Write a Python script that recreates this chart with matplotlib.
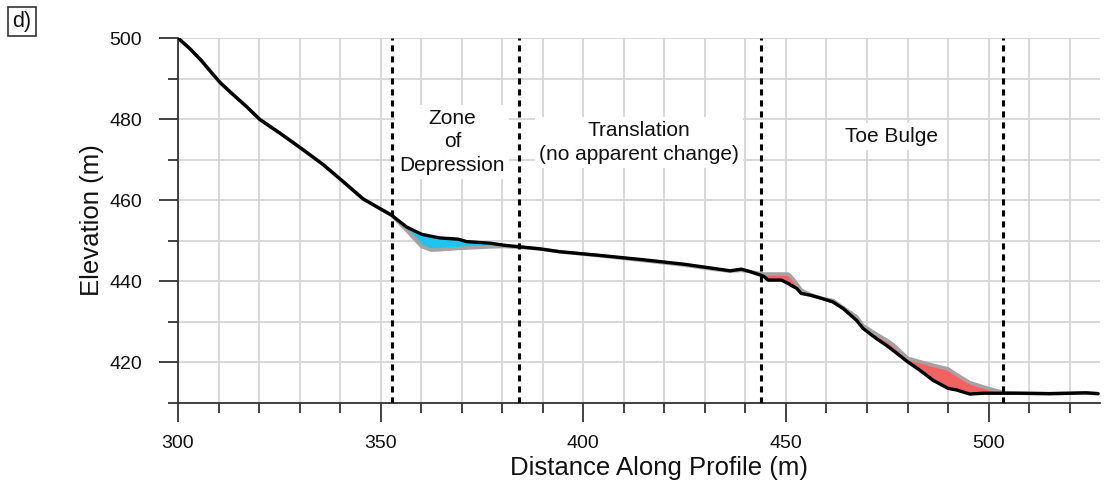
import matplotlib
matplotlib.use("Agg")
import matplotlib.pyplot as plt
import numpy as np
from matplotlib.ticker import MultipleLocator

plt.rcParams['font.family'] = ['Liberation Sans', 'DejaVu Sans']

# Distance along profile (m)
distance = [300, 303, 305.8, 307.9, 310.4, 313.2, 316.9, 320.2, 325.2, 330.1,
            335.8, 340.5, 345.7, 352.7, 356.4, 360.1, 362.5, 364.6, 369.1, 371.2,
            377, 380.5, 384.4, 389.3, 394.2, 404, 415, 425, 432, 436.2,
            439.0, 441.1, 444.4, 445.6, 448.9, 450.5, 451.3, 452.6, 453.8, 455.9,
            458.8, 461.6, 464.1, 467.4, 469.0, 472.3, 474.8, 476.4, 480.1, 483,
            486.3, 490, 492.1, 495.4, 498.6, 500.3, 503.5, 507.7, 515, 520,
            524, 527]

# Current surface (black)
elev_new = [500, 497.3, 494.4, 491.9, 489.0, 486.4, 483.1, 479.9, 476.5, 473.0,
            468.8, 464.8, 460.3, 456.3, 453.4, 451.6, 451.1, 450.7, 450.4, 449.8,
            449.4, 448.9, 448.5, 448.0, 447.3, 446.4, 445.3, 444.2, 443.2, 442.6,
            443.0, 442.4, 441.3, 440.3, 440.3, 439.5, 439.0, 438.3, 437.0, 436.6,
            435.8, 434.9, 433.3, 430.4, 428.4, 425.9, 424.2, 423.0, 420.1, 418.1,
            415.6, 413.6, 413.2, 412.2, 412.4, 412.4, 412.4, 412.4, 412.3, 412.4,
            412.5, 412.3]

# Previous surface (grey)
elev_old = [500, 497.3, 494.4, 491.9, 489.0, 486.4, 483.1, 479.9, 476.5, 473.0,
            468.8, 464.8, 460.3, 456.3, 452.6, 448.6, 447.7, 447.8, 448.1, 448.2,
            448.5, 448.6, 448.4, 448.0, 447.3, 446.3, 445.1, 444.0, 443.0, 442.5,
            442.7, 442.4, 441.8, 441.8, 441.8, 441.8, 441.1, 439.5, 437.8, 436.8,
            435.8, 435.3, 433.5, 431.3, 429.1, 427.0, 425.5, 424.4, 421.0, 420.2,
            419.3, 418.4, 417.0, 415.0, 414.0, 413.5, 412.6, 412.4, 412.3, 412.4,
            412.5, 412.3]

zone_bounds = [352.8, 384.1, 443.8, 503.5]
zone_labels = ["Zone\nof\nDepression", "Translation\n(no apparent change)", "Toe Bulge"]
zone_label_x = [367.7, 413.8, 476.1]
zone_label_y = [474.4, 474.2, 475.7]

x = np.array(distance)
yn = np.array(elev_new)
yo = np.array(elev_old)

fig = plt.figure(figsize=(11.07, 4.93), dpi=100)
ax = fig.add_axes([0.1608, 0.1826, 0.8329, 0.7403])

ax.set_xlim(300, 527.5)
ax.set_ylim(410, 500)

ax.fill_between(x, yo, yn, where=(yo < yn) & (x < 390), interpolate=True,
                color='#20c4f0', linewidth=0, zorder=2)
ax.fill_between(x, yo, yn, where=(yo > yn) & (x > 440), interpolate=True,
                color='#f26262', linewidth=0, zorder=2)
ax.plot(x, yo, color='#a3a3a3', linewidth=2.6, zorder=3, solid_capstyle='round')
ax.plot(x, yn, color='black', linewidth=2.4, zorder=4, solid_capstyle='round',
        solid_joinstyle='round')

for xb in zone_bounds:
    ax.axvline(xb, color='black', linewidth=2.2, linestyle=(0, (2.0, 1.6)), zorder=5)

for lab, lx, ly in zip(zone_labels, zone_label_x, zone_label_y):
    ax.text(lx, ly, lab, ha='center', va='center', fontsize=15, color='#111111',
            linespacing=1.3, zorder=6,
            bbox=dict(boxstyle='square,pad=0.2', facecolor='white', edgecolor='none'))

ax.xaxis.set_major_locator(MultipleLocator(50))
ax.xaxis.set_minor_locator(MultipleLocator(10))
ax.yaxis.set_major_locator(MultipleLocator(20))
ax.yaxis.set_minor_locator(MultipleLocator(10))
ax.grid(True, which='both', color='#d6d6d6', linewidth=1.3, zorder=0)
ax.set_axisbelow(True)

for s in ['top', 'right']:
    ax.spines[s].set_visible(False)
for s in ['left', 'bottom']:
    ax.spines[s].set_color('#333333')
    ax.spines[s].set_linewidth(1.3)

ax.tick_params(which='major', length=14, width=1.3, color='#333333',
               labelsize=14, pad=9, labelcolor='#111111')
ax.tick_params(which='minor', length=7, width=1.3, color='#333333')
ax.tick_params(axis='y', which='major', pad=12)

ax.set_xlabel('Distance Along Profile (m)', fontsize=18.5, color='#111111')
ax.set_ylabel('Elevation (m)', fontsize=18.5, color='#111111')
ax.xaxis.set_label_coords(0.5217, -0.145)
ax.yaxis.set_label_coords(-0.08, 0.5)

fig.text(0.0199, 0.956, 'd)', fontsize=15.5, ha='center', va='center', color='#111111',
         bbox=dict(boxstyle='square,pad=0.2', facecolor='white', edgecolor='#333333',
                   linewidth=1.2))

fig.savefig('out.png', dpi=100)
